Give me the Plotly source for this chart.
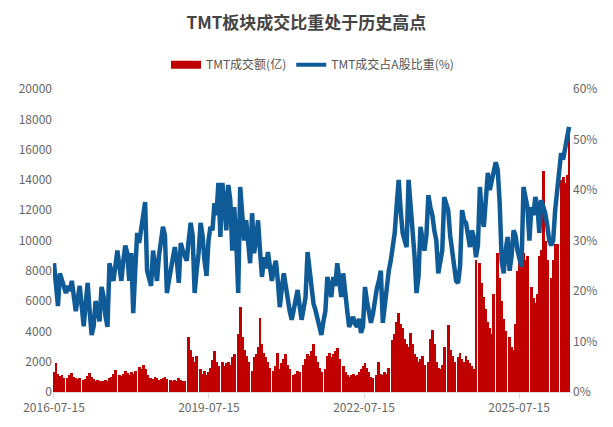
import pandas as pd
import plotly.graph_objects as go

# ---------------- data (~2-week sampling) ----------------
start_date = "2016-07-15"
n_points = 261
dates = pd.date_range(start_date, periods=n_points, freq="14D")

# TMT turnover (亿元); None = long holiday breaks (no trading)
tmt_turnover = [
    1300, 1900, 1200, 1050, 1150, 950, None, 900, 1100, 1250,
    1000, 900, 850, 950, None, 800, 850, 1050, 1250, 1000,
    850, 750, 800, 700, 750, 700, 800, 750, 900, 1000,
    1200, 1450, None, 1150, 1050, 1200, 1400, 1250, 1100, 1350,
    1200, 1400, None, 1650, 1500, 1750, 1500, 1100, 950, 900,
    850, 1000, 900, 800, 850, 950, 1000, 850, None, 800,
    750, 800, 700, 900, 800, 750, 700, None, 3600, 2800,
    2300, 2000, 2400, None, 1500, 1200, 1400, 1100, 1300, 1600,
    2100, 2700, 2000, 1700, None, 2000, 1700, 1900, 2000, 1800,
    2300, 2500, None, 3800, 5600, 3600, 2800, 2400, 2000, None,
    1400, 2300, 2500, 3000, 4900, 3200, 2600, 2300, 2000, 1600,
    None, 1400, 1700, 2600, 1500, 1900, 2200, 2500, 1800, 1500,
    None, 1100, 1200, 1400, 1300, None, 1800, 2200, 2500, 2400,
    2700, 3200, 2400, 2000, 1600, 1300, None, 1500, 2400, 2600,
    2300, 2500, 2700, 2900, 2200, None, 1700, 1300, 1100, 1000,
    1100, 1200, 1050, 1150, 1300, 1500, 1700, 1900, 1600, 1300,
    1000, 900, None, 1100, 2000, 1200, 1100, 1300, 1200, 1600,
    None, 3400, 3800, 4600, 5200, 4500, 4200, 3500, 3200, 3000,
    3900, 3200, 2500, 2300, 2000, 2200, 2400, 1800, None, 2000,
    3500, 4100, 3200, 2000, 1600, 1500, 1800, 3000, None, 4400,
    2800, 2400, 2000, None, 2300, 2600, 2200, 2000, 2400, 2100,
    1900, 1700, 1500, 8700, None, 8500, 7200, 6300, 5500, 4600,
    4200, 3800, 6500, None, 9200, 7500, 6000, 4800, 4000, None,
    3600, 3000, 2800, 4500, 8000, 9400, 9800, 9200, 8700, 9000,
    None, 6900, 6200, 5900, 6500, 9000, 9400, 14600, 10000, 8700,
    None, 7500, 8700, 9800, 9800, None, 14000, 14200, 13800, 14300,
    17500,
]

# TMT share of A-share turnover (%)
tmt_share = [
    25.5, 22, 17, 23.5, 22, 20.5, 19.6, 21, 20, 22,
    19, 16, 18.5, 21, 17, 13, 17.5, 21.6, 16, 11.3,
    13, 18, 16.5, 14, 20.8, 19, 15, 12.9, 25.5, 24,
    22, 25, 28, 25, 22, 26, 29, 27.5, 22, 27.5,
    15.6, 24, 31.5, 29.5, 32.7, 35, 37.6, 24, 22.5, 21,
    28, 25.5, 22, 27, 30.7, 32.7, 31, 19.6, 22, 24.8,
    26.5, 28.7, 26, 21.6, 29.5, 28, 27, 26, 30, 33.5,
    31, 19.6, 24, 27.5, 33.5, 31, 26, 23, 30, 32.7,
    32, 37.4, 35, 41.4, 30.7, 41.4, 38, 32, 41, 38,
    28, 36.6, 30, 19.6, 40.6, 34, 30, 34, 29, 25.5,
    35.4, 27.5, 30, 34, 28, 22.8, 26.7, 24.5, 27.7, 25,
    22, 24.5, 26, 22, 16.8, 20.5, 23.5, 21, 17.6, 16,
    14.3, 16.5, 18.5, 20.2, 17, 14.3, 16.5, 18.8, 27.7, 24,
    20.8, 17.5, 16.2, 14.5, 13, 11.3, 14, 16, 22.8, 21,
    18.8, 22.8, 21, 25.5, 21.5, 18.8, 23.5, 19, 16.2, 12.9,
    14, 14.9, 13.5, 12.9, 14.5, 11.7, 13, 20.8, 18, 16.2,
    13.7, 15.5, 18.8, 20.5, 22, 24, 13.7, 17, 22, 24,
    26, 29, 31.5, 37, 42, 36, 31.5, 30, 28.7, 42,
    37, 34, 27, 19.6, 22.8, 32.7, 30, 28, 31, 39,
    36.6, 35, 32, 30, 23.5, 26, 28, 38.6, 37, 36,
    31, 28, 24.8, 22, 21.6, 25, 36, 34, 33.5, 31,
    28.7, 32, 30.5, 26.7, 29, 40.6, 35, 32.7, 38, 43.4,
    40, 42, 43, 45.5, 44, 37.4, 26, 23.5, 28, 30.7,
    24, 27, 32, 31, 28, 26, 24.8, 40.6, 39, 36.6,
    30, 36.6, 35, 38.6, 37, 31.5, 38, 37, 35.4, 33,
    30, 29, 30, 36, 40.6, 44.6, 47.3, 46, 48, 50,
    52.5,
]

x_tick_vals = ["2016-07-15", "2019-07-15", "2022-07-15", "2025-07-15"]
x_tick_text = ["2016-07-15", "2019-07-15", "2022-07-15", "2025-07-15"]
left_ticks = [0, 2000, 4000, 6000, 8000, 10000, 12000, 14000, 16000, 18000, 20000]
left_tick_text = ["0", "2000", "4000", "6000", "8000", "10000", "12000",
                  "14000", "16000", "18000", "20000"]
right_ticks = [0, 10, 20, 30, 40, 50, 60]
right_tick_text = ["0%", "10%", "20%", "30%", "40%", "50%", "60%"]

title_text = "TMT板块成交比重处于历史高点"
name_bar = "TMT成交额(亿)"
name_line = "TMT成交占A股比重(%)"

# ---------------- figure ----------------
RED = "#C00000"
BLUE = "#0F5B97"
FONT = "Noto Sans CJK SC"
bar_width_ms = 20 * 24 * 3600 * 1000   # overlapping -> solid area, holiday gaps stay thin

fig = go.Figure()
fig.add_trace(go.Bar(
    x=dates, y=tmt_turnover, name=name_bar, showlegend=False,
    marker=dict(color=RED, line=dict(width=0)),
    width=bar_width_ms, yaxis="y",
))
fig.add_trace(go.Scatter(
    x=dates, y=tmt_share, name=name_line, mode="lines", showlegend=False,
    line=dict(color=BLUE, width=4.5), yaxis="y2",
))
# legend-only entries (wide rectangular red key, line key for blue)
fig.add_trace(go.Scatter(
    x=[None], y=[None], name=name_bar, mode="lines",
    line=dict(color=RED, width=8), yaxis="y",
))
fig.add_trace(go.Scatter(
    x=[None], y=[None], name=name_line, mode="lines",
    line=dict(color=BLUE, width=4), yaxis="y2",
))

fig.update_layout(
    width=613, height=427,
    margin=dict(l=53, r=41, t=89, b=35),
    paper_bgcolor="white", plot_bgcolor="white",
    font=dict(family=FONT, size=12, color="#666666"),
    title=dict(text="<b>" + title_text + "</b>", x=0.5, xanchor="center",
               y=0.946, yanchor="middle",
               font=dict(family=FONT, size=17, color="#444444")),
    legend=dict(orientation="h", x=0.5, xanchor="center", y=1.08, yanchor="middle",
                font=dict(family=FONT, size=12, color="#555555"),
                traceorder="normal"),
    bargap=0,
    barmode="overlay",
    showlegend=True,
    xaxis=dict(type="date", range=["2016-07-08", "2026-07-24"],
               tickvals=x_tick_vals, ticktext=x_tick_text,
               showgrid=False, zeroline=False, showline=True,
               linecolor="#dddddd", linewidth=1, ticks="outside",
               tickcolor="#dddddd", ticklen=5,
               tickfont=dict(size=12, color="#666666")),
    yaxis=dict(range=[0, 20000], tickvals=left_ticks, ticktext=left_tick_text,
               showgrid=False, zeroline=False, showline=False, ticks="",
               tickfont=dict(size=12, color="#666666")),
    yaxis2=dict(range=[0, 60], tickvals=right_ticks, ticktext=right_tick_text,
                overlaying="y", side="right", showgrid=False,
                zeroline=False, showline=False, ticks="",
                tickfont=dict(size=12, color="#666666")),
)

fig.write_html("out.html")
